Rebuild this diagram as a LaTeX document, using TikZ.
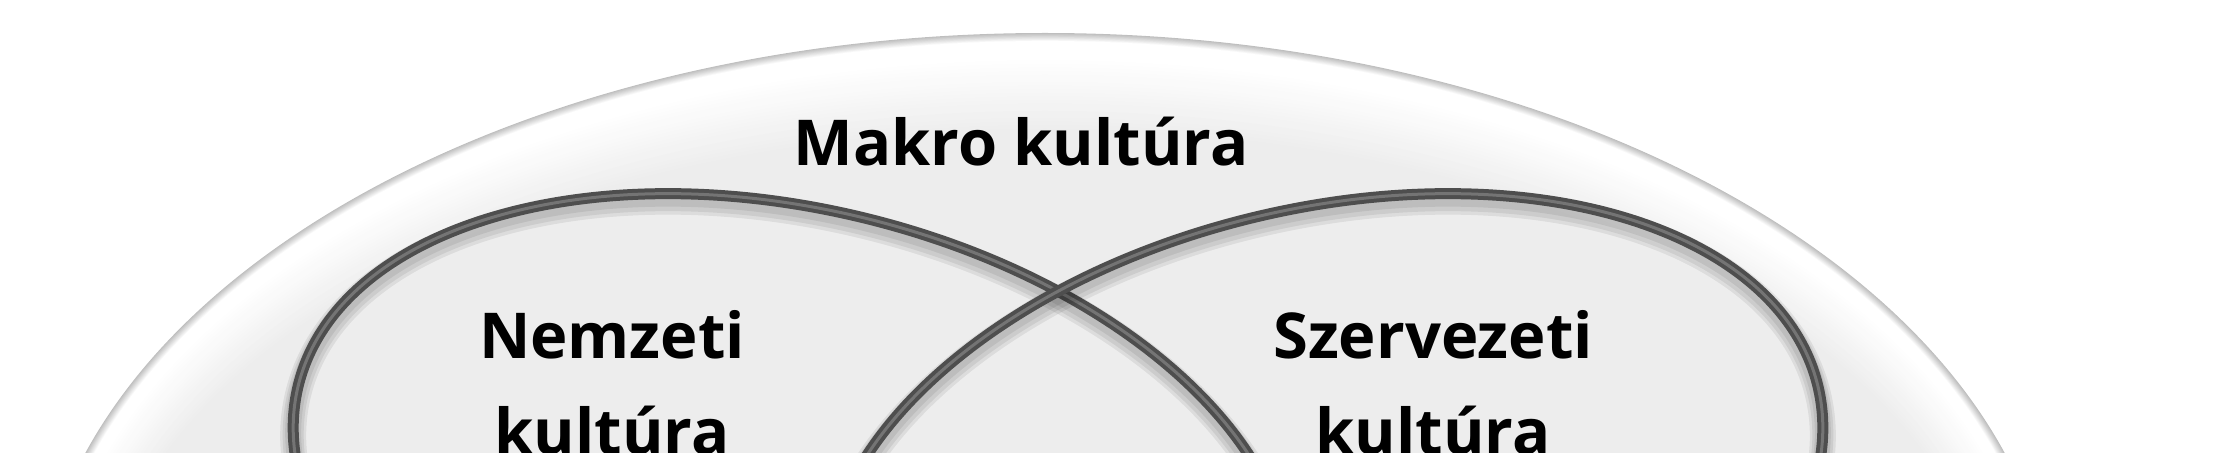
\documentclass[tikz,border=0pt]{standalone}
\usepackage{fontspec}
\setmainfont{Open Sans}
\usepackage{tikz}
\usetikzlibrary{calc}
\definecolor{rimgray}{HTML}{BEBEBE}
\definecolor{platefill}{HTML}{EDEDED}
\definecolor{ringdark}{HTML}{4E4E4E}
\definecolor{ringlight}{HTML}{747474}

\begin{document}
\begin{tikzpicture}[x=0.1mm,y=-0.1mm]
\tikzstyle{venntext} = [font=\fontsize{18}{27.2}\selectfont\bfseries, align=center, inner sep=0pt]
\tikzstyle{ringshadow} = [black, opacity=0.07]
\tikzstyle{ring} = [line width=1.1mm, ringdark]
\tikzstyle{ringshine} = [line width=0.3mm, ringlight]
    \useasboundingbox (0,0) rectangle (2227,453);
    \clip (0,0) rectangle (2227,453);
    \coordinate (MakroCenter) at (1045,644);
    \coordinate (NemzetiCenter) at (792,505);
    \coordinate (SzervezetiCenter) at (1324,505);

    % outer plate: grey rim, then white band fading into the fill
    \foreach \i [evaluate=\i as \d using 0.8*\i, evaluate=\i as \p using int(100-10*\i)] in {0,...,10}
        \fill[rimgray!\p!white] (MakroCenter) ellipse [x radius=1010-\d, y radius=611-\d];
    \foreach \i [evaluate=\i as \d using 20+3*\i, evaluate=\i as \p using int(5*\i)] in {0,...,20}
        \fill[platefill!\p!white] (MakroCenter) ellipse [x radius=1010-0.8*\d, y radius=611-1.2*\d];

    % the two rings, the right one on top
    \foreach \w/\s in {2.6/0.8, 2.1/0.7, 1.6/0.5}
        \draw[ringshadow, line width=\w mm] ([yshift=-\s mm]NemzetiCenter) ellipse [x radius=508, y radius=296, rotate=-13.5];
    \draw[ring] (NemzetiCenter) ellipse [x radius=508, y radius=296, rotate=-13.5];
    \draw[ringshine] (NemzetiCenter) ellipse [x radius=508, y radius=296, rotate=-13.5];
    \foreach \w/\s in {2.6/0.8, 2.1/0.7, 1.6/0.5}
        \draw[ringshadow, line width=\w mm] ([yshift=-\s mm]SzervezetiCenter) ellipse [x radius=508, y radius=296, rotate=13.5];
    \draw[ring] (SzervezetiCenter) ellipse [x radius=508, y radius=296, rotate=13.5];
    \draw[ringshine] (SzervezetiCenter) ellipse [x radius=508, y radius=296, rotate=13.5];

    \node[venntext, anchor=base] (makro) at (1021,165) {Makro kultúra};
    \node[venntext, anchor=north] (nemzeti) at (612,310) {Nemzeti\\kultúra};
    \node[venntext, anchor=north] (szervezeti) at (1433,310) {Szervezeti\\kultúra};
\end{tikzpicture}
\end{document}
